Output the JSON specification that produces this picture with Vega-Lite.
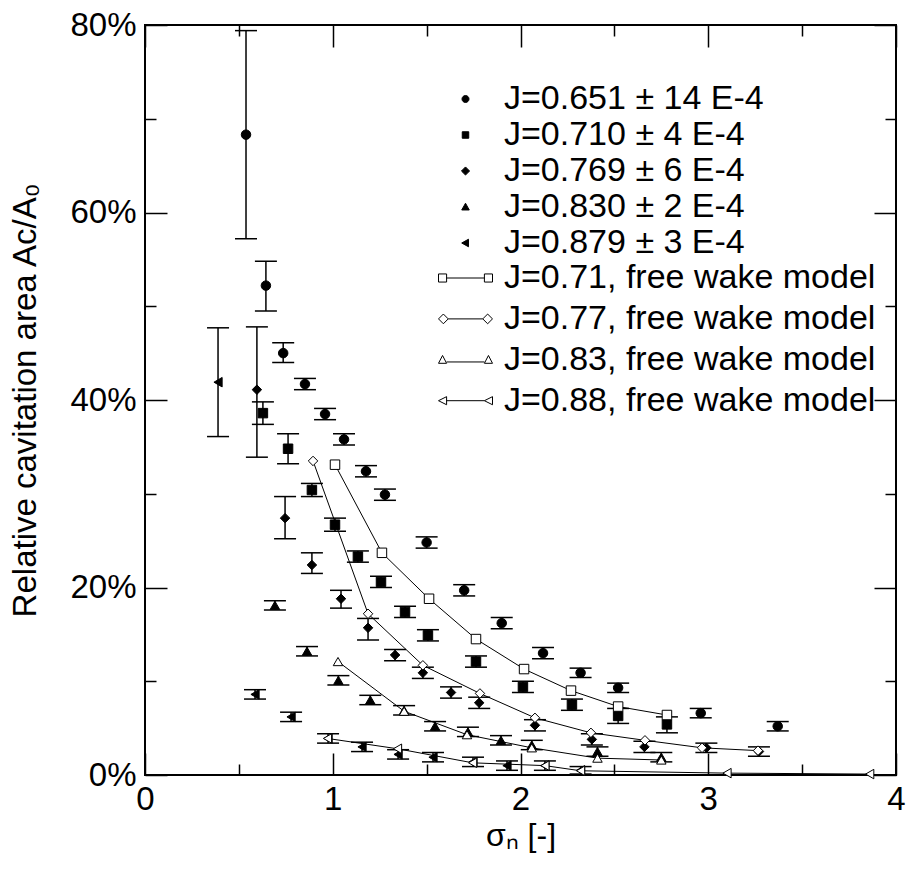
{
  "$schema": "https://vega.github.io/schema/vega-lite/v6.json",
  "autosize": {"type": "none"},
  "width": 751,
  "height": 750,
  "padding": {"left": 145, "top": 25, "right": 11, "bottom": 94},
  "background": "white",
  "config": {
    "font": "Liberation Sans",
    "view": {"stroke": "black", "strokeWidth": 2},
    "axis": {"tickColor": "black", "labelColor": "black", "titleColor": "black", "labelFont": "Liberation Sans", "titleFont": "Liberation Sans", "grid": false, "domain": false},
    "legend": {"orient": "none", "title": null, "padding": 0, "symbolSize": 2916, "clipHeight": 30, "labelFontSize": 34, "labelOffset": 11, "labelLimit": 0, "labelColor": "black", "symbolOpacity": 1, "symbolStrokeWidth": 1}
  },
  "data": {"values": [
    {"s": "J=0.651 ± 14 E-4", "t": "exp", "x": 0.538, "y": 68.3, "lo": 57.2, "hi": 79.4},
    {"s": "J=0.651 ± 14 E-4", "t": "exp", "x": 0.644, "y": 52.2, "lo": 49.5, "hi": 54.8},
    {"s": "J=0.651 ± 14 E-4", "t": "exp", "x": 0.736, "y": 45.0, "lo": 44.0, "hi": 46.1},
    {"s": "J=0.651 ± 14 E-4", "t": "exp", "x": 0.852, "y": 41.7, "lo": 41.1, "hi": 42.3},
    {"s": "J=0.651 ± 14 E-4", "t": "exp", "x": 0.959, "y": 38.5, "lo": 37.9, "hi": 39.1},
    {"s": "J=0.651 ± 14 E-4", "t": "exp", "x": 1.06, "y": 35.8, "lo": 35.2, "hi": 36.4},
    {"s": "J=0.651 ± 14 E-4", "t": "exp", "x": 1.177, "y": 32.4, "lo": 31.8, "hi": 33.0},
    {"s": "J=0.651 ± 14 E-4", "t": "exp", "x": 1.278, "y": 29.9, "lo": 29.3, "hi": 30.5},
    {"s": "J=0.651 ± 14 E-4", "t": "exp", "x": 1.50, "y": 24.8, "lo": 24.2, "hi": 25.4},
    {"s": "J=0.651 ± 14 E-4", "t": "exp", "x": 1.70, "y": 19.7, "lo": 19.1, "hi": 20.3},
    {"s": "J=0.651 ± 14 E-4", "t": "exp", "x": 1.90, "y": 16.2, "lo": 15.6, "hi": 16.8},
    {"s": "J=0.651 ± 14 E-4", "t": "exp", "x": 2.12, "y": 13.0, "lo": 12.4, "hi": 13.6},
    {"s": "J=0.651 ± 14 E-4", "t": "exp", "x": 2.32, "y": 10.9, "lo": 10.4, "hi": 11.4},
    {"s": "J=0.651 ± 14 E-4", "t": "exp", "x": 2.52, "y": 9.3, "lo": 8.8, "hi": 9.8},
    {"s": "J=0.651 ± 14 E-4", "t": "exp", "x": 2.96, "y": 6.6, "lo": 6.1, "hi": 7.1},
    {"s": "J=0.651 ± 14 E-4", "t": "exp", "x": 3.37, "y": 5.2, "lo": 4.7, "hi": 5.7},
    {"s": "J=0.710 ± 4 E-4", "t": "exp", "x": 0.628, "y": 38.6, "lo": 37.4, "hi": 39.8},
    {"s": "J=0.710 ± 4 E-4", "t": "exp", "x": 0.762, "y": 34.8, "lo": 33.2, "hi": 36.4},
    {"s": "J=0.710 ± 4 E-4", "t": "exp", "x": 0.889, "y": 30.4, "lo": 29.7, "hi": 31.1},
    {"s": "J=0.710 ± 4 E-4", "t": "exp", "x": 1.012, "y": 26.7, "lo": 26.0, "hi": 27.4},
    {"s": "J=0.710 ± 4 E-4", "t": "exp", "x": 1.134, "y": 23.3, "lo": 22.7, "hi": 23.9},
    {"s": "J=0.710 ± 4 E-4", "t": "exp", "x": 1.257, "y": 20.6, "lo": 20.0, "hi": 21.2},
    {"s": "J=0.710 ± 4 E-4", "t": "exp", "x": 1.385, "y": 17.4, "lo": 16.8, "hi": 18.0},
    {"s": "J=0.710 ± 4 E-4", "t": "exp", "x": 1.507, "y": 14.9, "lo": 14.3, "hi": 15.5},
    {"s": "J=0.710 ± 4 E-4", "t": "exp", "x": 1.763, "y": 12.1, "lo": 11.5, "hi": 12.7},
    {"s": "J=0.710 ± 4 E-4", "t": "exp", "x": 2.013, "y": 9.4, "lo": 8.8, "hi": 10.0},
    {"s": "J=0.710 ± 4 E-4", "t": "exp", "x": 2.274, "y": 7.5, "lo": 6.9, "hi": 8.1},
    {"s": "J=0.710 ± 4 E-4", "t": "exp", "x": 2.52, "y": 6.3, "lo": 5.5, "hi": 7.1},
    {"s": "J=0.710 ± 4 E-4", "t": "exp", "x": 2.78, "y": 5.4, "lo": 4.5, "hi": 6.2},
    {"s": "J=0.769 ± 6 E-4", "t": "exp", "x": 0.596, "y": 41.1, "lo": 33.9, "hi": 47.8},
    {"s": "J=0.769 ± 6 E-4", "t": "exp", "x": 0.746, "y": 27.4, "lo": 25.2, "hi": 29.7},
    {"s": "J=0.769 ± 6 E-4", "t": "exp", "x": 0.889, "y": 22.4, "lo": 21.5, "hi": 23.7},
    {"s": "J=0.769 ± 6 E-4", "t": "exp", "x": 1.044, "y": 18.8, "lo": 17.8, "hi": 19.7},
    {"s": "J=0.769 ± 6 E-4", "t": "exp", "x": 1.188, "y": 15.7, "lo": 14.4, "hi": 16.7},
    {"s": "J=0.769 ± 6 E-4", "t": "exp", "x": 1.332, "y": 12.8, "lo": 12.2, "hi": 13.4},
    {"s": "J=0.769 ± 6 E-4", "t": "exp", "x": 1.48, "y": 10.9, "lo": 10.3, "hi": 11.5},
    {"s": "J=0.769 ± 6 E-4", "t": "exp", "x": 1.63, "y": 8.8, "lo": 8.2, "hi": 9.4},
    {"s": "J=0.769 ± 6 E-4", "t": "exp", "x": 1.78, "y": 7.7, "lo": 7.1, "hi": 8.3},
    {"s": "J=0.769 ± 6 E-4", "t": "exp", "x": 2.077, "y": 5.3, "lo": 4.7, "hi": 5.9},
    {"s": "J=0.769 ± 6 E-4", "t": "exp", "x": 2.38, "y": 3.8, "lo": 3.2, "hi": 4.4},
    {"s": "J=0.769 ± 6 E-4", "t": "exp", "x": 2.66, "y": 3.0, "lo": 2.4, "hi": 3.6},
    {"s": "J=0.769 ± 6 E-4", "t": "exp", "x": 2.99, "y": 2.9, "lo": 2.4, "hi": 3.4},
    {"s": "J=0.769 ± 6 E-4", "t": "exp", "x": 3.27, "y": 2.5, "lo": 2.0, "hi": 3.0},
    {"s": "J=0.830 ± 2 E-4", "t": "exp", "x": 0.692, "y": 18.1, "lo": 17.6, "hi": 18.6},
    {"s": "J=0.830 ± 2 E-4", "t": "exp", "x": 0.863, "y": 13.2, "lo": 12.7, "hi": 13.7},
    {"s": "J=0.830 ± 2 E-4", "t": "exp", "x": 1.03, "y": 10.1, "lo": 9.6, "hi": 10.6},
    {"s": "J=0.830 ± 2 E-4", "t": "exp", "x": 1.2, "y": 8.0, "lo": 7.5, "hi": 8.5},
    {"s": "J=0.830 ± 2 E-4", "t": "exp", "x": 1.38, "y": 6.9, "lo": 6.4, "hi": 7.4},
    {"s": "J=0.830 ± 2 E-4", "t": "exp", "x": 1.545, "y": 5.2, "lo": 4.7, "hi": 5.7},
    {"s": "J=0.830 ± 2 E-4", "t": "exp", "x": 1.72, "y": 4.6, "lo": 4.1, "hi": 5.1},
    {"s": "J=0.830 ± 2 E-4", "t": "exp", "x": 1.896, "y": 3.7, "lo": 3.2, "hi": 4.2},
    {"s": "J=0.830 ± 2 E-4", "t": "exp", "x": 2.06, "y": 3.2, "lo": 2.7, "hi": 3.7},
    {"s": "J=0.830 ± 2 E-4", "t": "exp", "x": 2.41, "y": 2.5, "lo": 2.0, "hi": 3.0},
    {"s": "J=0.830 ± 2 E-4", "t": "exp", "x": 2.75, "y": 1.9, "lo": 1.4, "hi": 2.4},
    {"s": "J=0.879 ± 3 E-4", "t": "exp", "x": 0.389, "y": 41.9, "lo": 36.1, "hi": 47.7},
    {"s": "J=0.879 ± 3 E-4", "t": "exp", "x": 0.586, "y": 8.6, "lo": 8.1, "hi": 9.1},
    {"s": "J=0.879 ± 3 E-4", "t": "exp", "x": 0.778, "y": 6.2, "lo": 5.7, "hi": 6.7},
    {"s": "J=0.879 ± 3 E-4", "t": "exp", "x": 0.975, "y": 3.9, "lo": 3.4, "hi": 4.4},
    {"s": "J=0.879 ± 3 E-4", "t": "exp", "x": 1.156, "y": 3.0, "lo": 2.5, "hi": 3.5},
    {"s": "J=0.879 ± 3 E-4", "t": "exp", "x": 1.348, "y": 2.2, "lo": 1.7, "hi": 2.7},
    {"s": "J=0.879 ± 3 E-4", "t": "exp", "x": 1.534, "y": 1.9, "lo": 1.4, "hi": 2.4},
    {"s": "J=0.879 ± 3 E-4", "t": "exp", "x": 1.747, "y": 1.4, "lo": 0.9, "hi": 1.9},
    {"s": "J=0.879 ± 3 E-4", "t": "exp", "x": 1.928, "y": 1.0, "lo": 0.5, "hi": 1.5},
    {"s": "J=0.879 ± 3 E-4", "t": "exp", "x": 2.13, "y": 1.0, "lo": 0.5, "hi": 1.5},
    {"s": "J=0.879 ± 3 E-4", "t": "exp", "x": 2.32, "y": 0.5, "lo": 0.1, "hi": 0.9},
    {"s": "J=0.71, free wake model", "t": "model", "x": 1.012, "y": 33.1},
    {"s": "J=0.71, free wake model", "t": "model", "x": 1.262, "y": 23.7},
    {"s": "J=0.71, free wake model", "t": "model", "x": 1.513, "y": 18.8},
    {"s": "J=0.71, free wake model", "t": "model", "x": 1.763, "y": 14.5},
    {"s": "J=0.71, free wake model", "t": "model", "x": 2.019, "y": 11.3},
    {"s": "J=0.71, free wake model", "t": "model", "x": 2.269, "y": 9.0},
    {"s": "J=0.71, free wake model", "t": "model", "x": 2.52, "y": 7.3},
    {"s": "J=0.71, free wake model", "t": "model", "x": 2.78, "y": 6.4},
    {"s": "J=0.77, free wake model", "t": "model", "x": 0.895, "y": 33.5},
    {"s": "J=0.77, free wake model", "t": "model", "x": 1.188, "y": 17.2},
    {"s": "J=0.77, free wake model", "t": "model", "x": 1.48, "y": 11.7},
    {"s": "J=0.77, free wake model", "t": "model", "x": 1.784, "y": 8.7},
    {"s": "J=0.77, free wake model", "t": "model", "x": 2.077, "y": 6.1},
    {"s": "J=0.77, free wake model", "t": "model", "x": 2.375, "y": 4.5},
    {"s": "J=0.77, free wake model", "t": "model", "x": 2.663, "y": 3.7},
    {"s": "J=0.77, free wake model", "t": "model", "x": 2.967, "y": 2.9},
    {"s": "J=0.77, free wake model", "t": "model", "x": 3.265, "y": 2.6},
    {"s": "J=0.83, free wake model", "t": "model", "x": 1.028, "y": 12.1},
    {"s": "J=0.83, free wake model", "t": "model", "x": 1.38, "y": 6.8},
    {"s": "J=0.83, free wake model", "t": "model", "x": 1.715, "y": 4.3},
    {"s": "J=0.83, free wake model", "t": "model", "x": 2.06, "y": 2.9},
    {"s": "J=0.83, free wake model", "t": "model", "x": 2.41, "y": 1.8},
    {"s": "J=0.83, free wake model", "t": "model", "x": 2.75, "y": 1.6},
    {"s": "J=0.88, free wake model", "t": "model", "x": 0.972, "y": 3.9},
    {"s": "J=0.88, free wake model", "t": "model", "x": 1.345, "y": 2.8},
    {"s": "J=0.88, free wake model", "t": "model", "x": 1.745, "y": 1.3},
    {"s": "J=0.88, free wake model", "t": "model", "x": 2.13, "y": 1.0},
    {"s": "J=0.88, free wake model", "t": "model", "x": 2.32, "y": 0.45},
    {"s": "J=0.88, free wake model", "t": "model", "x": 3.1, "y": 0.2},
    {"s": "J=0.88, free wake model", "t": "model", "x": 3.86, "y": 0.1}
  ]},
  "resolve": {"axis": {"x": "independent", "y": "independent"}, "scale": {"shape": "independent"}},
  "layer": [
    {
      "transform": [{"filter": "datum.t === 'exp'"}],
      "mark": {"type": "rule", "color": "black", "strokeWidth": 1.5},
      "encoding": {
        "x": {"field": "x", "type": "quantitative", "scale": {"domain": [0, 4], "nice": false, "zero": false},
              "axis": {"orient": "bottom", "values": [0, 1, 2, 3, 4], "tickSize": -22, "tickWidth": 1.5, "labels": false, "title": null}},
        "y": {"field": "lo", "type": "quantitative", "scale": {"domain": [0, 80], "nice": false},
              "axis": {"orient": "left", "values": [0, 20, 40, 60, 80], "tickSize": -22, "tickWidth": 1.5, "labels": false, "title": null}},
        "y2": {"field": "hi"}
      }
    },
    {
      "transform": [{"filter": "datum.t === 'exp'"}],
      "mark": {"type": "tick", "orient": "horizontal", "size": 22, "thickness": 1.5, "color": "black", "opacity": 1},
      "encoding": {
        "x": {"field": "x", "type": "quantitative",
              "axis": {"orient": "top", "values": [0, 1, 2, 3, 4], "tickSize": -22, "tickWidth": 1.5, "labels": false, "title": null}},
        "y": {"field": "lo", "type": "quantitative",
              "axis": {"orient": "right", "values": [0, 20, 40, 60, 80], "tickSize": -22, "tickWidth": 1.5, "labels": false, "title": null}}
      }
    },
    {
      "transform": [{"filter": "datum.t === 'exp'"}],
      "mark": {"type": "tick", "orient": "horizontal", "size": 22, "thickness": 1.5, "color": "black", "opacity": 1},
      "encoding": {
        "x": {"field": "x", "type": "quantitative",
              "axis": {"orient": "bottom", "values": [0.5, 1.5, 2.5, 3.5], "tickSize": -11, "tickWidth": 1.5, "labels": false, "title": null}},
        "y": {"field": "hi", "type": "quantitative",
              "axis": {"orient": "left", "values": [10, 30, 50, 70], "tickSize": -11, "tickWidth": 1.5, "labels": false, "title": null}}
      }
    },
    {
      "transform": [{"filter": "datum.t === 'model'"}],
      "mark": {"type": "line", "color": "black", "strokeWidth": 1},
      "encoding": {
        "x": {"field": "x", "type": "quantitative",
              "axis": {"orient": "top", "values": [0.5, 1.5, 2.5, 3.5], "tickSize": -11, "tickWidth": 1.5, "labels": false, "title": null}},
        "y": {"field": "y", "type": "quantitative",
              "axis": {"orient": "right", "values": [10, 30, 50, 70], "tickSize": -11, "tickWidth": 1.5, "labels": false, "title": null}},
        "detail": {"field": "s"}
      }
    },
    {
      "mark": {"type": "point", "stroke": "black", "strokeWidth": 1, "opacity": 1, "size": 90},
      "encoding": {
        "x": {"field": "x", "type": "quantitative",
              "axis": {"orient": "bottom", "values": [0, 1, 2, 3, 4], "ticks": false, "labelPadding": 8, "labelFontSize": 33, "labelFlush": false, "title": "σₙ [-]", "titleFontSize": 32, "titleFontWeight": "normal", "titlePadding": 4}},
        "y": {"field": "y", "type": "quantitative",
              "axis": {"orient": "left", "values": [0, 20, 40, 60, 80], "ticks": false, "labelPadding": 9, "labelFontSize": 33, "labelExpr": "datum.value + '%'", "title": "Relative cavitation area Ac/A₀", "titleFontSize": 33, "titleFontWeight": "normal", "titlePadding": 27}},
        "shape": {"field": "s", "type": "nominal", "legend": null,
          "scale": {"domain": ["J=0.651 ± 14 E-4", "J=0.710 ± 4 E-4", "J=0.769 ± 6 E-4", "J=0.830 ± 2 E-4", "J=0.879 ± 3 E-4", "J=0.71, free wake model", "J=0.77, free wake model", "J=0.83, free wake model", "J=0.88, free wake model"],
                    "range": ["circle", "square", "diamond", "triangle-up", "triangle-left", "square", "diamond", "triangle-up", "triangle-left"]}},
        "fill": {"field": "s", "type": "nominal", "legend": null,
          "scale": {"domain": ["J=0.651 ± 14 E-4", "J=0.710 ± 4 E-4", "J=0.769 ± 6 E-4", "J=0.830 ± 2 E-4", "J=0.879 ± 3 E-4", "J=0.71, free wake model", "J=0.77, free wake model", "J=0.83, free wake model", "J=0.88, free wake model"],
                    "range": ["black", "black", "black", "black", "black", "white", "white", "white", "white"]}}
      }
    },
    {
      "transform": [{"filter": "false"}],
      "mark": {"type": "point", "stroke": "black", "fill": "black", "strokeWidth": 1, "opacity": 1},
      "encoding": {
        "x": {"field": "x", "type": "quantitative", "axis": null},
        "y": {"field": "y", "type": "quantitative", "axis": null},
        "shape": {"field": "s", "type": "nominal",
          "scale": {"domain": ["J=0.651 ± 14 E-4", "J=0.710 ± 4 E-4", "J=0.769 ± 6 E-4", "J=0.830 ± 2 E-4", "J=0.879 ± 3 E-4"],
                    "range": ["M-0.13,0A0.13,0.13 0 1,0 0.13,0A0.13,0.13 0 1,0 -0.13,0Z", "M-0.12,-0.12H0.12V0.12H-0.12Z", "M-0.15,0L0,-0.15L0.15,0L0,0.15Z", "M-0.14,0.11L0,-0.14L0.14,0.11Z", "M-0.14,0L0.11,-0.14L0.11,0.14Z"]},
          "legend": {"legendX": 293, "legendY": 59, "rowPadding": 2}}
      }
    },
    {
      "transform": [{"filter": "false"}],
      "mark": {"type": "point", "stroke": "black", "fill": "white", "strokeWidth": 1, "opacity": 1},
      "encoding": {
        "x": {"field": "x", "type": "quantitative", "axis": null},
        "y": {"field": "y", "type": "quantitative", "axis": null},
        "shape": {"field": "s", "type": "nominal",
          "scale": {"domain": ["J=0.71, free wake model", "J=0.77, free wake model", "J=0.83, free wake model", "J=0.88, free wake model"],
                    "range": ["M-1,-0.15H-0.7V0.15H-1Z M0.7,-0.15H1V0.15H0.7Z M-0.7,0H0.7", "M-1,0L-0.82,-0.18L-0.64,0L-0.82,0.18Z M0.64,0L0.82,-0.18L1,0L0.82,0.18Z M-0.64,0H0.64", "M-1,0.13L-0.85,-0.16L-0.7,0.13Z M0.7,0.13L0.85,-0.16L1,0.13Z M-0.7,0.08H0.7", "M-1,0L-0.7,-0.15L-0.7,0.15Z M0.7,0L1,-0.15L1,0.15Z M-0.7,0H0.7"]},
          "legend": {"legendX": 293, "legendY": 238, "rowPadding": 6.9}}
      }
    }
  ]
}
